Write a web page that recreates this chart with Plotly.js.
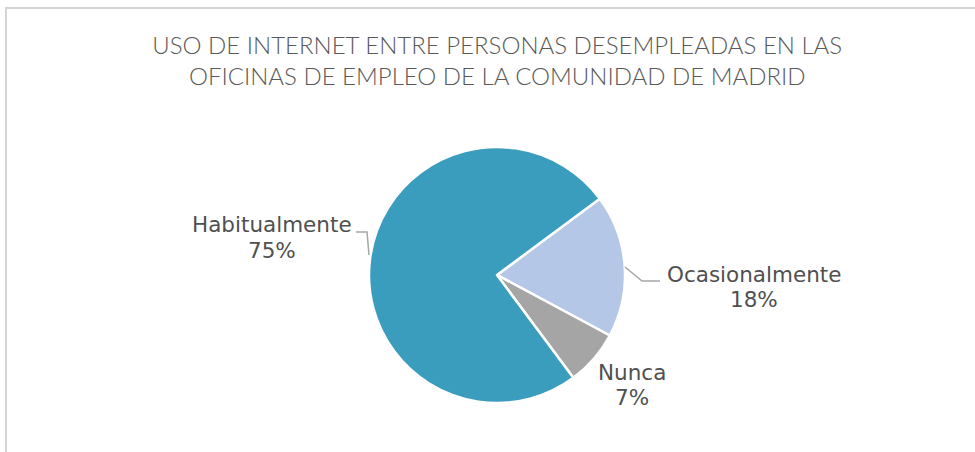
<!DOCTYPE html>
<html>
<head>
<meta charset="utf-8">
<script src="https://cdn.plot.ly/plotly-3.0.1.min.js"></script>
<style>
html,body{margin:0;padding:0;background:#fff;overflow:hidden;}
#frame{position:absolute;left:5px;top:7px;width:1000px;height:500px;border-left:2px solid #d4d4d4;border-top:2px solid #d4d4d4;}
#chart{position:absolute;left:0;top:0;width:975px;height:452px;}
</style>
</head>
<body>
<div id="frame"></div>
<div id="chart"></div>
<script>
// Data
const categories = ["Ocasionalmente", "Nunca", "Habitualmente"];
const values = [18, 7, 75];
const sliceColors = ["#b4c7e7", "#a5a5a5", "#3a9dbd"];
const titleText = "USO DE INTERNET ENTRE PERSONAS DESEMPLEADAS EN LAS<br>OFICINAS DE EMPLEO DE LA COMUNIDAD DE MADRID";

// Label placement (layout, not data): centre x, name line y, percent line y
const labelPos = {
  "Ocasionalmente": {x: 754, y1: 274, y2: 299},
  "Nunca": {x: 632, y1: 372, y2: 397},
  "Habitualmente": {x: 272, y1: 224, y2: 250}
};
const W = 975, H = 452;
const total = values.reduce((a, b) => a + b, 0);
const labelFont = {family: "'DejaVu Sans', sans-serif", size: 21.5, color: "#505050"};

const annotations = [];
categories.forEach((c, i) => {
  const p = labelPos[c];
  annotations.push({
    xref: "paper", yref: "paper", x: p.x / W, y: 1 - p.y1 / H,
    xanchor: "center", yanchor: "middle", showarrow: false,
    text: c, font: labelFont
  });
  annotations.push({
    xref: "paper", yref: "paper", x: p.x / W, y: 1 - p.y2 / H,
    xanchor: "center", yanchor: "middle", showarrow: false,
    text: Math.round(values[i] / total * 100) + "%", font: labelFont
  });
});

function px(x, y) { return (x / W) + " " + (1 - y / H); }
const shapes = [
  {type: "path", xref: "paper", yref: "paper",
   path: "M " + px(356, 232) + " L " + px(367, 232) + " L " + px(369, 255),
   line: {color: "#a6a6a6", width: 1.5}},
  {type: "path", xref: "paper", yref: "paper",
   path: "M " + px(625, 267) + " L " + px(642, 281) + " L " + px(660, 281),
   line: {color: "#a6a6a6", width: 1.5}}
];

const trace = {
  type: "pie",
  labels: categories,
  values: values,
  sort: false,
  direction: "clockwise",
  rotation: 53.4,
  marker: {colors: sliceColors, line: {color: "#ffffff", width: 2.5}},
  textinfo: "none",
  hoverinfo: "label+percent",
  domain: {x: [369 / W, 625 / W], y: [1 - 403 / H, 1 - 147 / H]},
  showlegend: false
};

const layout = {
  width: W, height: H,
  margin: {l: 0, r: 0, t: 0, b: 0},
  paper_bgcolor: "rgba(0,0,0,0)",
  plot_bgcolor: "rgba(0,0,0,0)",
  title: {
    text: titleText,
    x: 0.51, xanchor: "center",
    y: 1 - 54 / H, yanchor: "middle",
    font: {family: "Lato, 'Open Sans', sans-serif", size: 24, color: "#595959", weight: 300}
  },
  annotations: annotations,
  shapes: shapes
};

Plotly.newPlot("chart", [trace], layout, {displayModeBar: false, staticPlot: true});
</script>
</body>
</html>
